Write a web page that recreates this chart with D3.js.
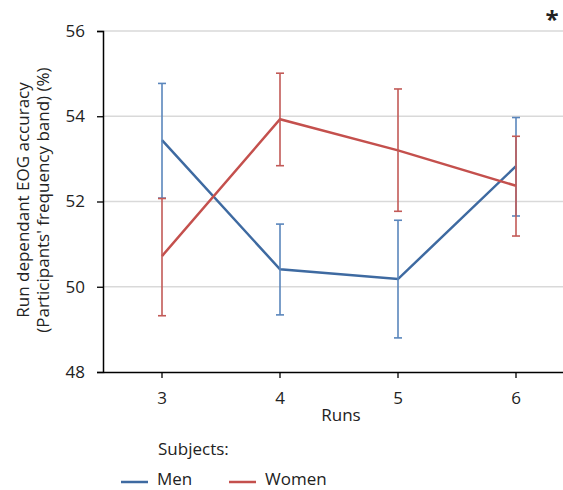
<!DOCTYPE html>
<html><head><meta charset="utf-8">
<script src="https://cdn.jsdelivr.net/npm/d3@7"></script>
<style>body{margin:0;background:#fff}svg{display:block}text{font-family:"Open Sans","Noto Sans",sans-serif;fill:#222}</style>
</head><body>
<script>
const runs = ["3","4","5","6"];
const menMean = [53.44, 50.41, 50.18, 52.83];
const menHigh = [54.77, 51.47, 51.56, 53.97];
const menLow  = [52.08, 49.34, 48.80, 51.66];
const womenMean = [50.72, 53.93, 53.20, 52.37];
const womenHigh = [52.07, 55.01, 54.64, 53.53];
const womenLow  = [49.32, 52.84, 51.77, 51.19];
const yTicks = [48, 50, 52, 54, 56];

const W = 563, H = 490;
const svg = d3.select("body").append("svg").attr("width", W).attr("height", H);
const x = d3.scaleBand().domain(runs).range([103, 575]);
const y = d3.scaleLinear().domain([48, 56]).range([372, 31]);
const cx = d => x(d) + x.bandwidth()/2;

// grid
svg.append("g").selectAll("line").data(yTicks.filter(t => t > 48)).join("line")
  .attr("x1", 103).attr("x2", 575).attr("y1", d => y(d)).attr("y2", d => y(d))
  .attr("stroke", "#d9d9d9").attr("stroke-width", 1.3);

// axes
const yAxis = svg.append("g").attr("transform", "translate(103,0)")
  .call(d3.axisLeft(y).tickValues(yTicks).tickSize(6).tickPadding(12));
yAxis.select(".domain").attr("stroke", "#000").attr("stroke-width", 1.5);
yAxis.selectAll(".tick line").attr("stroke", "#000").attr("stroke-width", 1.3);
yAxis.selectAll("text").style("font-size", "17px").attr("fill", "#222");

const xAxis = svg.append("g").attr("transform", "translate(0,372)")
  .call(d3.axisBottom(x).tickSize(6).tickSizeOuter(0).tickPadding(14));
xAxis.select(".domain").attr("stroke", "#000").attr("stroke-width", 1.5);
xAxis.selectAll(".tick line").attr("stroke", "#000").attr("stroke-width", 1.3);
xAxis.selectAll("text").style("font-size", "17px").attr("fill", "#222");

svg.append("text").attr("x", 341).attr("y", 421).attr("text-anchor", "middle")
  .style("font-size", "17px").text("Runs");

const yl = svg.append("text").attr("transform", "translate(29,200) rotate(-90)")
  .attr("text-anchor", "middle").style("font-size", "17px");
yl.append("tspan").attr("x", 0).attr("dy", 0).text("Run dependant EOG accuracy");
yl.append("tspan").attr("x", 0).attr("dy", 20).text("(Participants' frequency band) (%)");

svg.append("text").attr("x", 552).attr("y", 28).attr("text-anchor", "middle")
  .style("font-size", "24px").style("font-weight", "bold").text("*");

function series(mean, hi, lo, lineColor, barColor) {
  const g = svg.append("g");
  const data = runs.map((r, i) => ({r, m: mean[i], h: hi[i], l: lo[i]}));
  g.append("path").datum(data)
    .attr("d", d3.line().x(d => cx(d.r)).y(d => y(d.m)))
    .attr("fill", "none").attr("stroke", lineColor).attr("stroke-width", 2.5);
  const eb = g.selectAll(".eb").data(data).join("g");
  eb.append("line").attr("x1", d => cx(d.r)).attr("x2", d => cx(d.r))
    .attr("y1", d => y(d.h)).attr("y2", d => y(d.l))
    .attr("stroke", barColor).attr("stroke-width", 1.6);
  ["h", "l"].forEach(k => {
    eb.append("line").attr("x1", d => cx(d.r) - 4).attr("x2", d => cx(d.r) + 4)
      .attr("y1", d => y(d[k])).attr("y2", d => y(d[k]))
      .attr("stroke", barColor).attr("stroke-width", 1.6);
  });
}
series(menMean, menHigh, menLow, "#3e6aa1", "#5a86bc");
series(womenMean, womenHigh, womenLow, "#c4504d", "#c25a57");

// legend
svg.append("text").attr("x", 158).attr("y", 455).style("font-size", "17px").text("Subjects:");
const leg = [{n: "Men", c: "#3e6aa1", x: 121}, {n: "Women", c: "#c4504d", x: 229}];
leg.forEach(l => {
  svg.append("line").attr("x1", l.x).attr("x2", l.x + 27).attr("y1", 482).attr("y2", 482)
    .attr("stroke", l.c).attr("stroke-width", 2.5);
  svg.append("text").attr("x", l.x + 36).attr("y", 485).style("font-size", "17px").text(l.n);
});
</script>
</body></html>
